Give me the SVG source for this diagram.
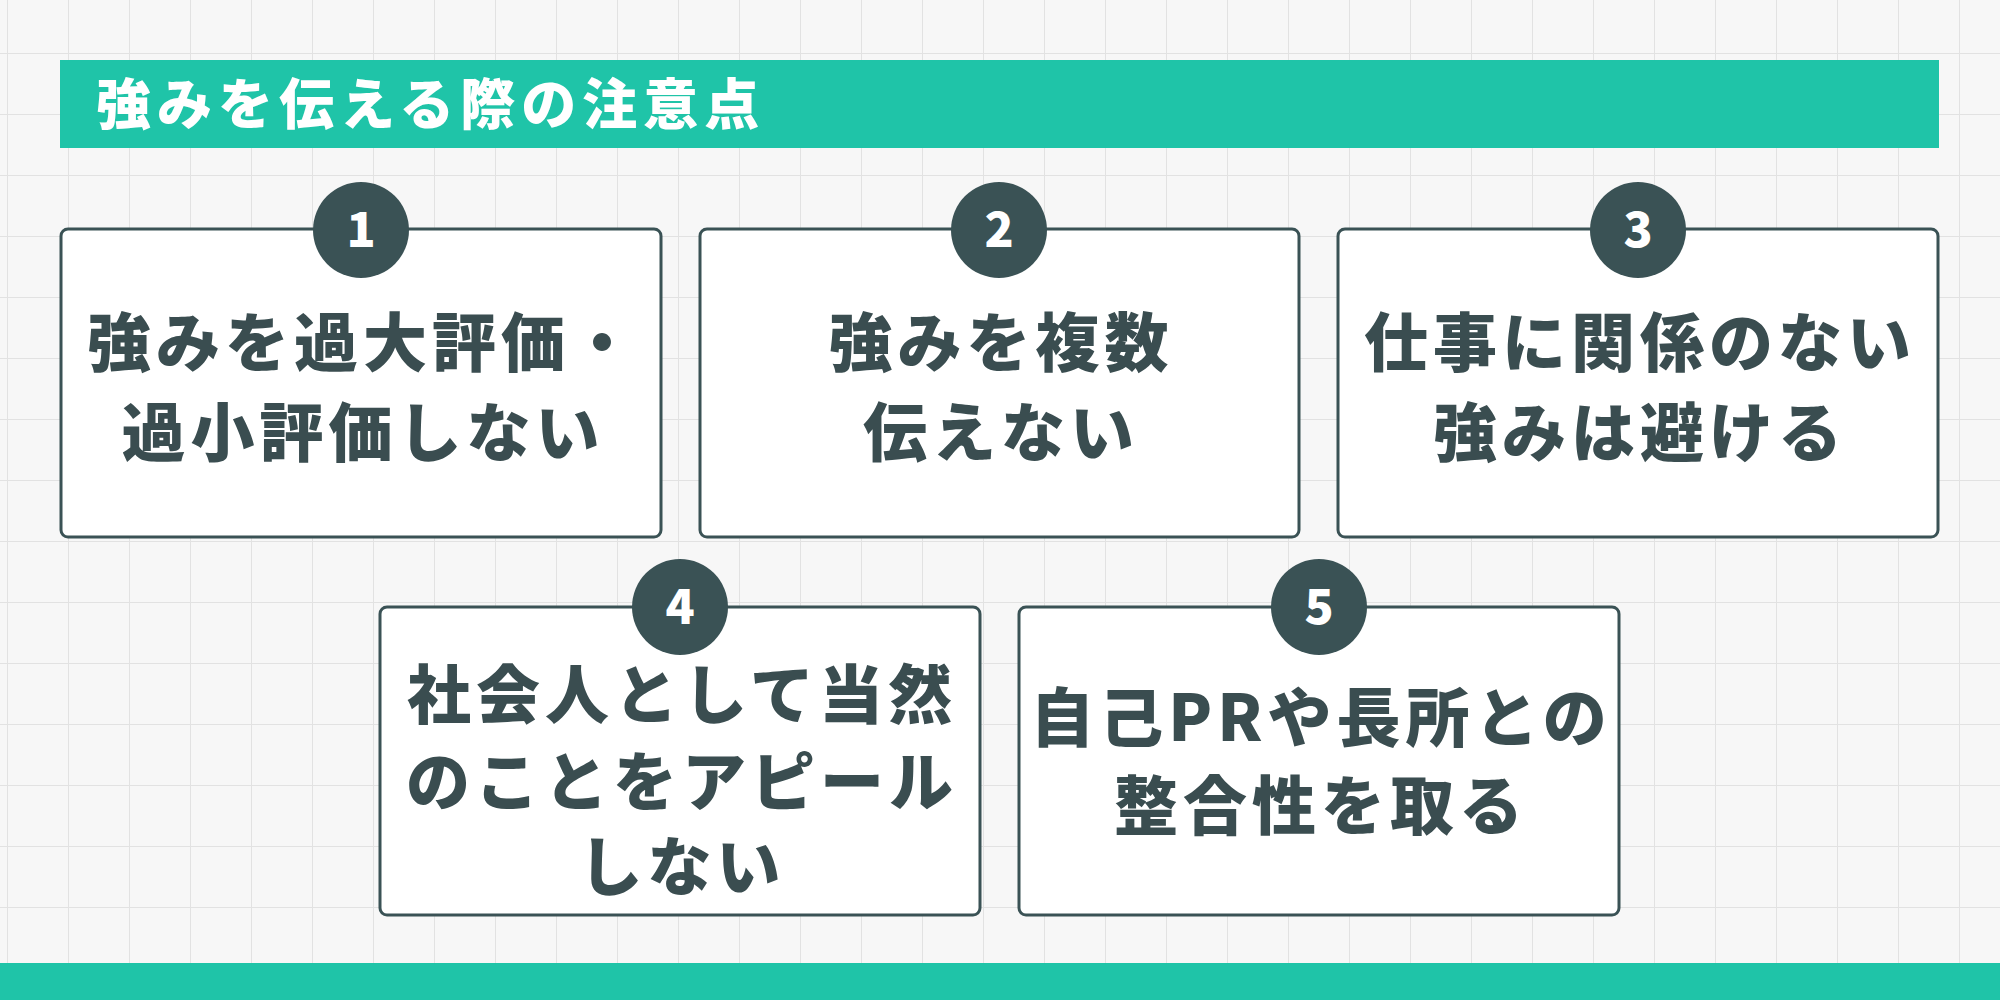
<svg xmlns="http://www.w3.org/2000/svg" width="2000" height="1000" viewBox="0 0 2000 1000">
<defs>
<pattern id="grid" width="61" height="61" patternUnits="userSpaceOnUse" x="8" y="-7">
<path d="M61 0V61M0 61H61" fill="none" stroke="#e2e2e2" stroke-width="2"/>
</pattern>
<style>
.box{fill:#fff;stroke:#3a5255;stroke-width:3}
.c{fill:#3a5255}
.n{font-family:"Noto Sans CJK JP","Noto Sans",sans-serif;font-weight:900;font-size:48px;fill:#fff;text-anchor:middle}
.t{font-family:"Noto Sans CJK JP",sans-serif;font-weight:900;font-size:64px;fill:#3a4d50;text-anchor:middle;letter-spacing:5px}
</style>
</defs>
<rect width="2000" height="1000" fill="#f7f7f7"/>
<rect width="2000" height="1000" fill="url(#grid)"/>
<g id="title">
<rect x="60" y="60" width="1879" height="88" fill="#1fc4a8"/>
<text x="96" y="124" font-family="Noto Sans CJK JP,sans-serif" font-weight="900" font-size="55" fill="#fff" letter-spacing="6">強みを伝える際の注意点</text>
</g>
<g id="n1"><rect class="box" x="61" y="229" width="600" height="308" rx="7"/><circle class="c" cx="361" cy="230" r="48"/><text class="n" x="361" y="247">1</text>
<text class="t" x="363" y="366">強みを過大評価・</text><text class="t" x="363" y="456">過小評価しない</text></g>
<g id="n2"><rect class="box" x="700" y="229" width="599" height="308" rx="7"/><circle class="c" cx="999" cy="230" r="48"/><text class="n" x="999" y="247">2</text>
<text class="t" x="1001" y="366">強みを複数</text><text class="t" x="1001" y="456">伝えない</text></g>
<g id="n3"><rect class="box" x="1338" y="229" width="600" height="308" rx="7"/><circle class="c" cx="1638" cy="230" r="48"/><text class="n" x="1638" y="247">3</text>
<text class="t" x="1640" y="366">仕事に関係のない</text><text class="t" x="1640" y="456">強みは避ける</text></g>
<g id="n4"><rect class="box" x="380" y="607" width="600" height="308" rx="7"/><circle class="c" cx="680" cy="607" r="48"/><text class="n" x="680" y="624">4</text>
<text class="t" x="682" y="718">社会人として当然</text><text class="t" x="682" y="805">のことをアピール</text><text class="t" x="682" y="890">しない</text></g>
<g id="n5"><rect class="box" x="1019" y="607" width="600" height="308" rx="7"/><circle class="c" cx="1319" cy="607" r="48"/><text class="n" x="1319" y="624">5</text>
<text class="t" x="1321" y="741">自己PRや長所との</text><text class="t" x="1321" y="829">整合性を取る</text></g>
<g id="connectors"/>
<rect id="footer" x="0" y="963" width="2000" height="37" fill="#1fc4a8"/>
</svg>
